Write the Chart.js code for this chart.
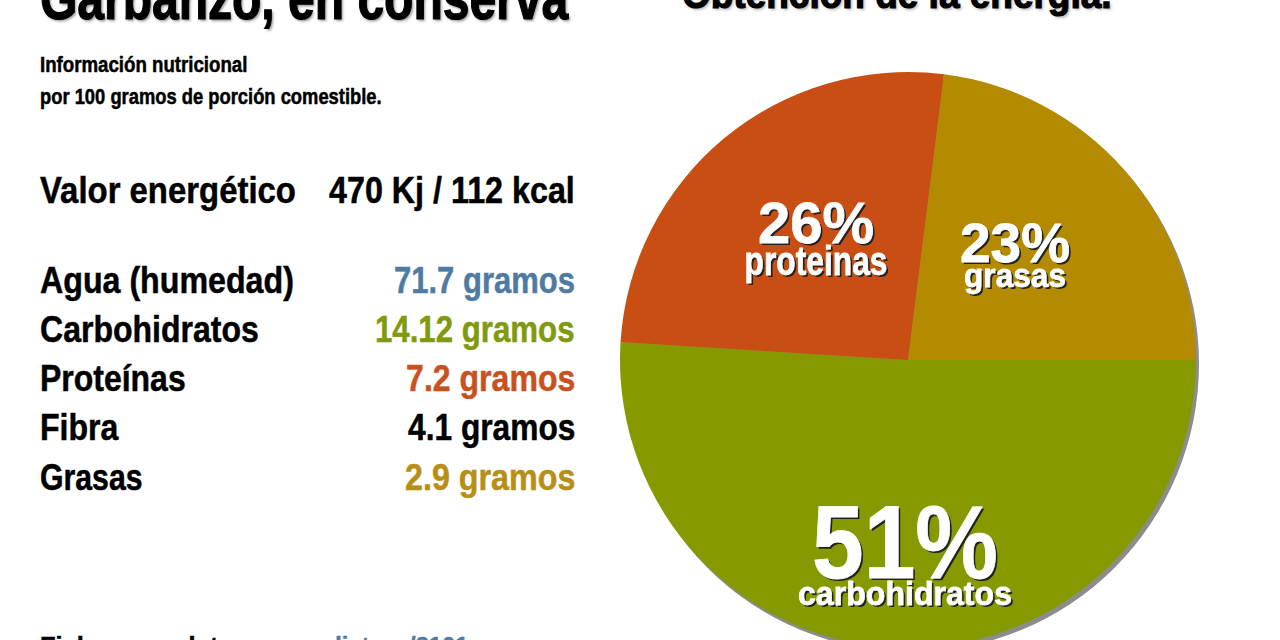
<!DOCTYPE html>
<html><head><meta charset="utf-8">
<script src="https://cdn.jsdelivr.net/npm/chart.js@4"></script>
<style>
html,body{margin:0;padding:0;background:#fff;width:1280px;height:640px;overflow:hidden}
body{position:relative;font-family:"Liberation Sans",sans-serif;font-weight:700;color:#000}
.t{position:absolute;white-space:nowrap;line-height:1;-webkit-text-stroke:.5px currentColor}
.l{transform-origin:left center}
.r{transform-origin:right center;text-align:right}
#wrap{position:absolute;left:616px;top:68px;width:584px;height:584px}
</style></head><body>
<div class="t l" data-w="528" style="left:40px;top:-33.5px;font-size:62px;-webkit-text-stroke:1.2px #000;text-shadow:2px 2px 3px #999">Garbanzo, en conserva</div>
<div class="t l" data-w="430" style="left:682px;top:-26px;font-size:40px;-webkit-text-stroke:1.2px #000;text-shadow:2px 2px 3px #bbb">Obtención de la energía.</div>
<div class="t l" data-w="207" style="left:40px;top:54px;font-size:22px">Información nutricional</div>
<div class="t l" data-w="342" style="left:40px;top:86px;font-size:22px">por 100 gramos de porción comestible.</div>
<div class="t l" data-w="256" style="left:40px;top:172px;font-size:37px">Valor energético</div>
<div class="t r" data-w="246" style="right:705px;top:172px;font-size:37px">470 Kj / 112 kcal</div>
<div id="rows"></div>
<div class="t l" data-w="245" style="left:40px;top:634px;font-size:24px">Fichas con datos en</div>
<div class="t l" data-w="175" style="left:293px;top:634px;font-size:24px;color:#4f7ba3">mediateca/8101</div>
<div id="wrap"><canvas id="c"></canvas></div>
<script>
const pieLabels=["carbohidratos","proteinas","grasas"];
const pieValues=[51,26,23];
const pieColors=["#869a00","#c94e14","#b38a00"];
const nutrients=["Agua (humedad)","Carbohidratos","Proteínas","Fibra","Grasas"];
const amounts=["71.7 gramos","14.12 gramos","7.2 gramos","4.1 gramos","2.9 gramos"];
const amountColors=["#4f7ba3","#7f9a0e","#c9511e","#000000","#b88f16"];
const nutrientWidths=[254,219,146,78,103];
const amountWidths=[181,200,169,167,170];
const rowsEl=document.getElementById('rows');
nutrients.forEach((n,i)=>{
  const top=261.7+i*49.25;
  rowsEl.insertAdjacentHTML('beforeend',`<div class="t l" data-w="${nutrientWidths[i]}" style="left:40px;top:${top}px;font-size:37px">${n}</div><div class="t r" data-w="${amountWidths[i]}" style="right:705px;top:${top}px;font-size:37px;color:${amountColors[i]}">${amounts[i]}</div>`);
});
document.querySelectorAll('[data-w]').forEach(e=>{
  e.style.transform=`scaleX(${e.dataset.w/e.offsetWidth})`;
});
// dx, value baseline dy, value font, value width, name baseline dy, name font, name width
const labelStyle=[[-3,218,103,186,245,34,214],[-92,-117,58,118,-85,40,143],[107,-98,55,110,-73,34,102]];
const discShadow={id:'discShadow',beforeDatasetsDraw(ch){
  const a=ch.getDatasetMeta(0).data[0],x=ch.ctx;
  x.save();x.fillStyle='#8c8c8c';x.beginPath();x.arc(a.x+3,a.y+4,a.outerRadius,0,Math.PI*2);x.fill();x.restore();
}};
const pieText={id:'pieText',afterDatasetsDraw(ch){
  const a=ch.getDatasetMeta(0).data[0],x=ch.ctx;
  x.save();x.textAlign='center';x.textBaseline='alphabetic';
  pieLabels.forEach((l,i)=>{
    const o=labelStyle[i],px=a.x+o[0];
    const draw=(s,yy,f,w)=>{x.font=`700 ${f}px "Liberation Sans",sans-serif`;
      x.fillStyle='#222';x.fillText(s,px+2,yy+2,w);
      x.fillStyle='#fff';x.strokeStyle='#fff';x.lineWidth=.8;x.strokeText(s,px,yy,w);x.fillText(s,px,yy,w);};
    draw(pieValues[i]+'%',a.y+o[1],o[2],o[3]);
    draw(l,a.y+o[4],o[5],o[6]);
  });
  x.restore();
}};
new Chart(document.getElementById('c'),{type:'pie',
  data:{labels:pieLabels,datasets:[{data:pieValues,backgroundColor:pieColors,borderWidth:0}]},
  options:{responsive:true,maintainAspectRatio:false,animation:false,rotation:90,
    layout:{padding:4},
    plugins:{legend:{display:false},tooltip:{enabled:false},title:{display:false}}},
  plugins:[discShadow,pieText]});
</script>
</body></html>
